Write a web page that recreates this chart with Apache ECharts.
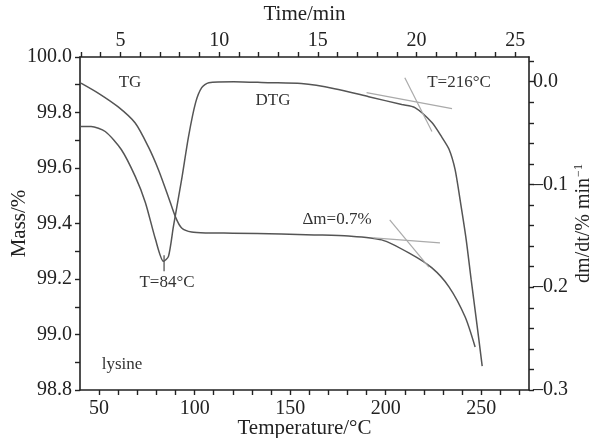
<!DOCTYPE html>
<html>
<head>
<meta charset="utf-8">
<script src="https://cdn.jsdelivr.net/npm/echarts@6/dist/echarts.min.js"></script>
<style>
html, body { margin: 0; padding: 0; background: #fff; }
#main { width: 597px; height: 438px; }
</style>
</head>
<body>
<div id="main"></div>
<script>
// TG curve (left axis, Mass/%)
var tgTemp = [40.5, 49.5, 60.0, 68.9, 75.8, 81.1, 86.3, 90.0, 93.2, 98.4, 107.4, 120, 145.3, 162.6, 180.5, 197.9, 212.1, 224.2, 233.2, 241.6, 246.8];
var tgMass = [99.906, 99.870, 99.820, 99.762, 99.676, 99.593, 99.495, 99.423, 99.384, 99.369, 99.366, 99.365, 99.362, 99.359, 99.355, 99.341, 99.294, 99.240, 99.171, 99.063, 98.955];

// DTG curve (right axis, dm/dt)
var dtgTemp = [40.5, 45.8, 53.2, 61.6, 68.9, 74.2, 79.5, 83.7, 86.3, 88.9, 93.2, 96.8, 100.5, 103.7, 107.4, 120.5, 138.4, 155.8, 173.2, 191.1, 208.4, 215.3, 224.2, 229.5, 233.2, 236.3, 238.9, 242.1, 244.7, 247.4, 250.5];
var dtgRate = [-0.0437, -0.0437, -0.0485, -0.066, -0.0922, -0.1175, -0.1534, -0.1748, -0.170, -0.1408, -0.0951, -0.0534, -0.0204, -0.0058, -0.001, 0.0, -0.001, -0.0019, -0.0068, -0.0146, -0.0223, -0.0252, -0.0398, -0.0544, -0.066, -0.0854, -0.1146, -0.1534, -0.1922, -0.231, -0.2767];

// tangent lines
var onsetFlat = [[190, -0.0107], [234.7, -0.0262]];
var onsetSteep = [[210, 0.0039], [224.2, -0.0485]];
var massFlat = [[193.7, 99.348], [228.4, 99.330]];
var massSteep = [[202.1, 99.413], [222.6, 99.243]];
var peakMark = [[84, -0.169], [84, -0.1845]];

// ticks
var tempTicks = [50, 60, 70, 80, 90, 100, 110, 120, 130, 140, 150, 160, 170, 180, 190, 200, 210, 220, 230, 240, 250, 260, 270];
var tempLabels = [50, 100, 150, 200, 250];
var timeTicks = [3, 4, 5, 6, 7, 8, 9, 10, 11, 12, 13, 14, 15, 16, 17, 18, 19, 20, 21, 22, 23, 24, 25];
var timeLabels = [5, 10, 15, 20, 25];
var massTicks = [98.8, 98.9, 99.0, 99.1, 99.2, 99.3, 99.4, 99.5, 99.6, 99.7, 99.8, 99.9, 100.0];
var massLabels = [98.8, 99.0, 99.2, 99.4, 99.6, 99.8, 100.0];
var rateTicks = [-0.3, -0.28, -0.26, -0.24, -0.22, -0.2, -0.18, -0.16, -0.14, -0.12, -0.1, -0.08, -0.06, -0.04, -0.02, 0.0, 0.02];
var rateLabels = [-0.3, -0.2, -0.1, 0.0];

var font = 'Liberation Serif';
var ink = '#222';
var curve = '#555';
var light = '#aaa';

function zip(a, b) {
    return a.map(function (v, i) { return [v, b[i]]; });
}

var axisLine = { show: true, onZero: false, lineStyle: { color: ink, width: 1.6 } };
var tickStyle = { color: ink, width: 1.4 };

function note(x, y, text) {
    return { type: 'text', x: x, y: y, style: { text: text, font: '17px "Liberation Serif"', fill: '#333', align: 'center', verticalAlign: 'middle' } };
}

var myChart = echarts.init(document.getElementById('main'));
var option = {
    animation: false,
    backgroundColor: '#fff',
    grid: { left: 80, right: 68, top: 57, bottom: 48, outerBoundsMode: 'none', containLabel: false },
    xAxis: [{
        type: 'value', position: 'bottom', min: 40, max: 275,
        name: 'Temperature/°C', nameLocation: 'middle', nameGap: 28, nameMoveOverlap: false,
        nameTextStyle: { fontFamily: font, fontSize: 21, color: ink },
        axisLine: axisLine, splitLine: { show: false },
        axisTick: { customValues: tempTicks, length: 5, lineStyle: tickStyle },
        axisLabel: { customValues: tempLabels, fontFamily: font, fontSize: 20, color: ink, margin: 9 }
    }, {
        type: 'value', position: 'top', min: 2.95, max: 25.7,
        name: 'Time/min', nameLocation: 'middle', nameGap: 32, nameMoveOverlap: false,
        nameTextStyle: { fontFamily: font, fontSize: 21, color: ink },
        axisLine: axisLine, splitLine: { show: false },
        axisTick: { customValues: timeTicks, length: 5, lineStyle: tickStyle },
        axisLabel: { customValues: timeLabels, fontFamily: font, fontSize: 20, color: ink, margin: 6 }
    }],
    yAxis: [{
        type: 'value', position: 'left', min: 98.8, max: 100.0,
        name: 'Mass/%', nameLocation: 'middle', nameGap: 50, nameRotate: 90, nameMoveOverlap: false,
        nameTextStyle: { fontFamily: font, fontSize: 21, color: ink },
        axisLine: axisLine, splitLine: { show: false },
        axisTick: { customValues: massTicks, length: 5, lineStyle: tickStyle },
        axisLabel: {
            customValues: massLabels, fontFamily: font, fontSize: 20, color: ink, margin: 8,
            formatter: function (v) { return v.toFixed(1); }
        }
    }, {
        type: 'value', position: 'right', min: -0.3, max: 0.024,
        name: 'dm/dt/% min{sup|−1}', nameLocation: 'middle', nameGap: 44, nameRotate: 90, nameMoveOverlap: false,
        nameTextStyle: {
            fontFamily: font, fontSize: 20, color: ink,
            rich: { sup: { fontFamily: font, fontSize: 12, color: ink, verticalAlign: 'top', padding: [0, 0, 10, 1] } }
        },
        axisLine: axisLine, splitLine: { show: false },
        axisTick: { customValues: rateTicks, length: 5, lineStyle: tickStyle },
        axisLabel: {
            customValues: rateLabels, fontFamily: font, fontSize: 20, color: ink, margin: 4,
            formatter: function (v) { return v === 0 ? '0.0' : '–' + Math.abs(v).toFixed(1); }
        }
    }],
    series: [{
        type: 'line', xAxisIndex: 0, yAxisIndex: 0, data: zip(tgTemp, tgMass),
        smooth: 0.25, showSymbol: false, lineStyle: { color: curve, width: 1.5 }
    }, {
        type: 'line', xAxisIndex: 0, yAxisIndex: 1, data: zip(dtgTemp, dtgRate),
        smooth: 0.25, showSymbol: false, lineStyle: { color: curve, width: 1.5 }
    }, {
        type: 'line', yAxisIndex: 1, data: onsetFlat, showSymbol: false, lineStyle: { color: light, width: 1.2 }
    }, {
        type: 'line', yAxisIndex: 1, data: onsetSteep, showSymbol: false, lineStyle: { color: light, width: 1.2 }
    }, {
        type: 'line', yAxisIndex: 0, data: massFlat, showSymbol: false, lineStyle: { color: light, width: 1.2 }
    }, {
        type: 'line', yAxisIndex: 0, data: massSteep, showSymbol: false, lineStyle: { color: light, width: 1.2 }
    }, {
        type: 'line', yAxisIndex: 1, data: peakMark, showSymbol: false, lineStyle: { color: curve, width: 1.3 }
    }],
    graphic: [
        note(130, 83, 'TG'),
        note(273, 101, 'DTG'),
        note(459, 83, 'T=216°C'),
        note(337, 220, 'Δm=0.7%'),
        note(167, 283, 'T=84°C'),
        note(122, 365, 'lysine')
    ]
};
myChart.setOption(option);
window.onresize = myChart.resize;
</script>
</body>
</html>
